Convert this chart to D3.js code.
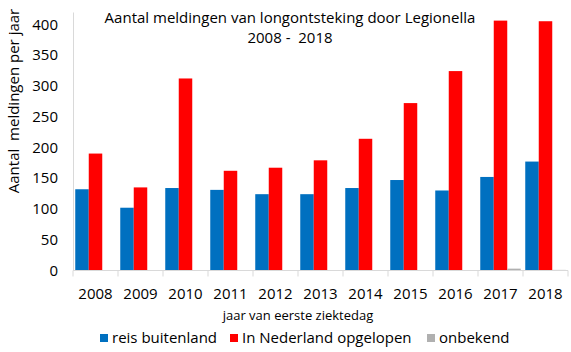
<!DOCTYPE html>
<html>
<head>
<meta charset="utf-8">
<script src="https://cdn.jsdelivr.net/npm/d3@7"></script>
<style>
  body { margin: 0; background: #fff; }
  text { font-family: "Open Sans", sans-serif; fill: #000; }
</style>
</head>
<body>
<svg id="chart"></svg>
<script>
// data
const years = ["2008", "2009", "2010", "2011", "2012", "2013", "2014", "2015", "2016", "2017", "2018"];
const reisBuitenland = [132, 102, 134, 131, 124, 124, 134, 147, 130, 152, 177];
const inNederland = [190, 135, 312, 162, 167, 179, 214, 272, 324, 406, 405];
const onbekend = [0, 0, 0, 0, 0, 0, 0, 0, 0, 3, 1];
const yTicks = [0, 50, 100, 150, 200, 250, 300, 350, 400];

const seriesNames = ["reis buitenland", "In Nederland opgelopen", "onbekend"];
const seriesColors = ["#0070c0", "#ff0000", "#b0b0b0"];

const width = 571, height = 352;
const margin = {top: 12, right: 3, bottom: 82, left: 73};

const svg = d3.select("#chart")
  .attr("width", width)
  .attr("height", height);

// build rows for the bars
const rows = years.map((yr, i) => ({
  year: yr,
  values: [reisBuitenland[i], inNederland[i], onbekend[i]]
}));

const x0 = d3.scaleBand()
  .domain(years)
  .range([margin.left, width - margin.right])
  .paddingInner(0)
  .paddingOuter(0);

const x1 = d3.scaleBand()
  .domain(seriesNames)
  .range([0, x0.bandwidth()])
  .paddingOuter(0.1667)
  .paddingInner(0);

const y = d3.scaleLinear()
  .domain([0, 420])
  .range([height - margin.bottom + 0.5, margin.top]);

// bars
const groups = svg.selectAll(".yr")
  .data(rows)
  .enter()
  .append("g")
  .attr("class", "yr")
  .attr("transform", d => `translate(${x0(d.year)},0)`);

groups.selectAll("rect")
  .data(d => d.values.map((v, k) => ({name: seriesNames[k], value: v, color: seriesColors[k]})))
  .enter()
  .append("rect")
  .attr("x", d => x1(d.name))
  .attr("width", x1.bandwidth())
  .attr("y", d => y(d.value))
  .attr("height", d => y(0) - y(d.value))
  .attr("fill", d => d.color);

// y axis
const yAxis = svg.append("g")
  .attr("transform", `translate(${margin.left},0)`)
  .call(d3.axisLeft(y).tickValues(yTicks).tickSize(0).tickPadding(15));
yAxis.select(".domain").attr("stroke", "#d9d9d9");
yAxis.selectAll("text").style("font-size", "15px").style("font-family", "'Open Sans', sans-serif");

// x axis with ticks at category boundaries
const xAxisG = svg.append("g")
  .attr("transform", `translate(0,${y(0)})`);
xAxisG.append("line")
  .attr("x1", margin.left).attr("x2", width - margin.right)
  .attr("stroke", "#d9d9d9");
xAxisG.selectAll(".bt")
  .data(years.concat(["end"]))
  .enter()
  .append("line")
  .attr("x1", (d, i) => margin.left + i * x0.bandwidth())
  .attr("x2", (d, i) => margin.left + i * x0.bandwidth())
  .attr("y1", 0).attr("y2", 6)
  .attr("stroke", "#d9d9d9");
xAxisG.selectAll(".lbl")
  .data(years)
  .enter()
  .append("text")
  .attr("x", d => x0(d) + x0.bandwidth() / 2)
  .attr("y", 28)
  .attr("text-anchor", "middle")
  .style("font-size", "15px")
  .text(d => d);

// title
svg.append("text")
  .attr("x", 290).attr("y", 23)
  .attr("text-anchor", "middle")
  .style("font-size", "15px")
  .text("Aantal meldingen van longontsteking door Legionella");
svg.append("text")
  .attr("x", 290).attr("y", 43)
  .attr("text-anchor", "middle")
  .style("font-size", "15px")
  .attr("xml:space", "preserve")
  .text("2008 -  2018");

// axis labels
svg.append("text")
  .attr("transform", "translate(19,101) rotate(-90)")
  .attr("text-anchor", "middle")
  .style("font-size", "15px")
  .attr("xml:space", "preserve")
  .text("Aantal  meldingen per jaar");

svg.append("text")
  .attr("x", 298).attr("y", 320)
  .attr("text-anchor", "middle")
  .style("font-size", "13px")
  .text("jaar van eerste ziektedag");

// legend
const legendX = [100, 230, 427];
seriesNames.forEach((name, i) => {
  svg.append("rect")
    .attr("x", legendX[i]).attr("y", 334)
    .attr("width", 8).attr("height", 8)
    .attr("fill", seriesColors[i]);
  svg.append("text")
    .attr("x", legendX[i] + 12).attr("y", 343)
    .style("font-size", "15px")
    .text(name);
});
</script>
</body>
</html>
